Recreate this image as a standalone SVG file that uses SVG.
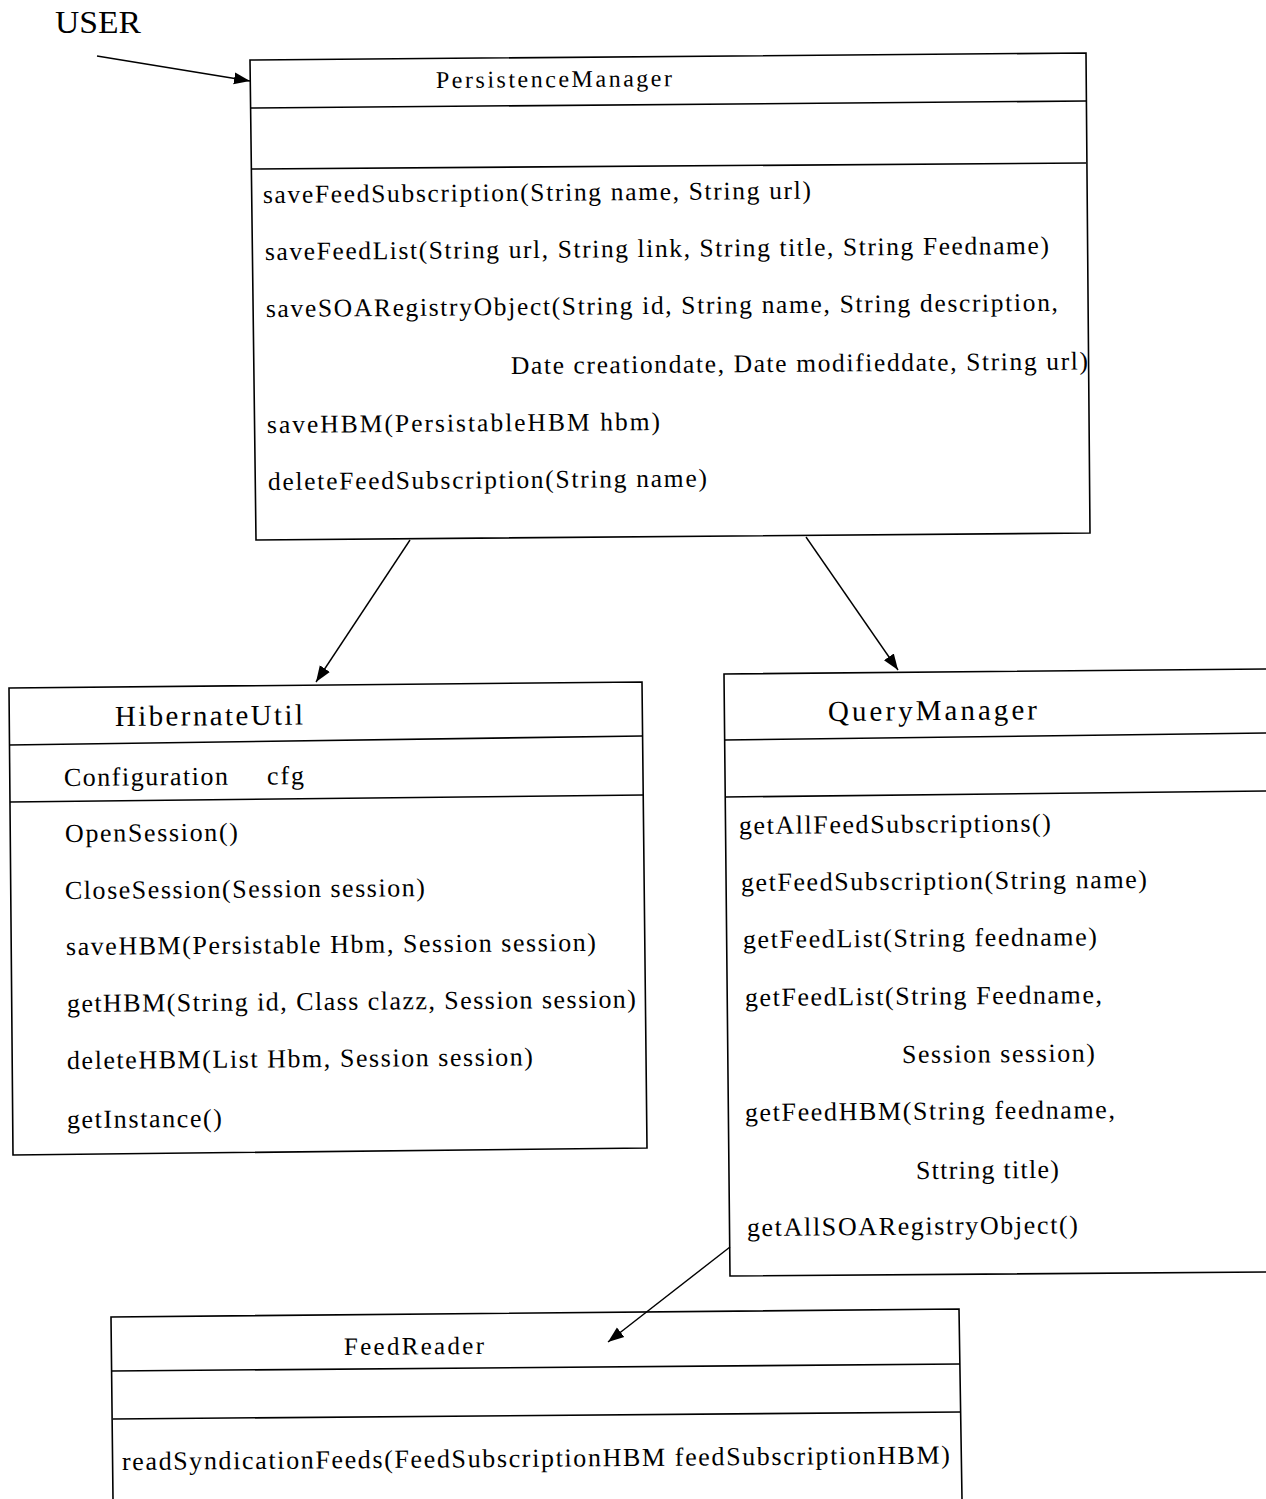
<svg xmlns="http://www.w3.org/2000/svg" width="1266" height="1499" viewBox="0 0 1266 1499">
  <style>
    .box { fill: none; stroke: #000; stroke-width: 1.6; stroke-linejoin: miter; }
    .sep { stroke: #000; stroke-width: 1.6; }
    .edge { stroke: #000; stroke-width: 1.4; fill: none; }
    text { font-family: "Liberation Serif", "Times New Roman", serif; fill: #000; }
    .title { font-size: 29px; }
    .ptitle { font-size: 24px; }
    .ftitle { font-size: 25px; }
    .m { font-size: 25.5px; }
    .m2 { font-size: 26px; }
    .actor { font-size: 31px; }
  </style>
  <defs>
    <marker id="arrow" markerUnits="userSpaceOnUse" markerWidth="18" markerHeight="14" refX="16" refY="7" orient="auto">
      <path d="M0,1 L16,7 L0,13 Z" fill="#000"/>
    </marker>
  </defs>

  <rect width="1266" height="1499" fill="#fff"/>

  <!-- actor -->
  <g id="user">
    <text class="actor" x="55" y="33" textLength="86" lengthAdjust="spacingAndGlyphs">USER</text>
  </g>

  <!-- PersistenceManager class -->
  <g id="persistence-manager">
    <path class="box" d="M250,60 L1086,53 L1090,533 L256,540 Z"/>
    <line class="sep" x1="250" y1="108" x2="1086" y2="101"/>
    <line class="sep" x1="251" y1="169" x2="1086" y2="163"/>
    <text class="ptitle" x="436" y="88" textLength="236" transform="rotate(-0.45 436 88)">PersistenceManager</text>
    <text class="m" x="263" y="203" textLength="548" transform="rotate(-0.45 263 203)">saveFeedSubscription(String name, String url)</text>
    <text class="m" x="265" y="260" textLength="784" transform="rotate(-0.45 265 260)">saveFeedList(String url, String link, String title, String Feedname)</text>
    <text class="m" x="266" y="317" textLength="792" transform="rotate(-0.45 266 317)">saveSOARegistryObject(String id, String name, String description,</text>
    <text class="m" x="511" y="374" textLength="577" transform="rotate(-0.45 511 374)">Date creationdate, Date modifieddate, String url)</text>
    <text class="m" x="267" y="433" textLength="393" transform="rotate(-0.45 267 433)">saveHBM(PersistableHBM hbm)</text>
    <text class="m" x="268" y="490" textLength="439" transform="rotate(-0.45 268 490)">deleteFeedSubscription(String name)</text>
  </g>

  <!-- HibernateUtil class -->
  <g id="hibernate-util">
    <path class="box" d="M9,688 L642,682 L647,1148 L13,1155 Z"/>
    <line class="sep" x1="9" y1="745" x2="642" y2="736"/>
    <line class="sep" x1="10" y1="802" x2="643" y2="795"/>
    <text class="title" x="115" y="726" textLength="188" transform="rotate(-0.45 115 726)">HibernateUtil</text>
    <text class="m2" x="64" y="786" transform="rotate(-0.45 64 786)"><tspan textLength="164">Configuration</tspan><tspan x="267" textLength="37">cfg</tspan></text>
    <text class="m2" x="65" y="842" textLength="173" transform="rotate(-0.45 65 842)">OpenSession()</text>
    <text class="m2" x="65" y="899" textLength="360" transform="rotate(-0.45 65 899)">CloseSession(Session session)</text>
    <text class="m2" x="66" y="955" textLength="530" transform="rotate(-0.45 66 955)">saveHBM(Persistable Hbm, Session session)</text>
    <text class="m2" x="67" y="1012" textLength="569" transform="rotate(-0.45 67 1012)">getHBM(String id, Class clazz, Session session)</text>
    <text class="m2" x="67" y="1069" textLength="466" transform="rotate(-0.45 67 1069)">deleteHBM(List Hbm, Session session)</text>
    <text class="m2" x="67" y="1128" textLength="155" transform="rotate(-0.45 67 1128)">getInstance()</text>
  </g>

  <!-- QueryManager class (runs off the right edge) -->
  <g id="query-manager">
    <path class="box" d="M1266,669 L724,674 L730,1276 L1266,1272"/>
    <line class="sep" x1="724" y1="740" x2="1266" y2="733"/>
    <line class="sep" x1="725" y1="797" x2="1266" y2="791"/>
    <text class="title" x="828" y="721" textLength="209" transform="rotate(-0.45 828 721)">QueryManager</text>
    <text class="m2" x="739" y="834" textLength="312" transform="rotate(-0.45 739 834)">getAllFeedSubscriptions()</text>
    <text class="m2" x="741" y="891" textLength="406" transform="rotate(-0.45 741 891)">getFeedSubscription(String name)</text>
    <text class="m2" x="743" y="948" textLength="354" transform="rotate(-0.45 743 948)">getFeedList(String feedname)</text>
    <text class="m2" x="745" y="1006" textLength="357" transform="rotate(-0.45 745 1006)">getFeedList(String Feedname,</text>
    <text class="m2" x="902" y="1063" textLength="193" transform="rotate(-0.45 902 1063)">Session session)</text>
    <text class="m2" x="745" y="1121" textLength="370" transform="rotate(-0.45 745 1121)">getFeedHBM(String feedname,</text>
    <text class="m2" x="916" y="1179" textLength="143" transform="rotate(-0.45 916 1179)">Sttring title)</text>
    <text class="m2" x="747" y="1236" textLength="331" transform="rotate(-0.45 747 1236)">getAllSOARegistryObject()</text>
  </g>

  <!-- FeedReader class (runs off the bottom edge) -->
  <g id="feed-reader">
    <path class="box" d="M113,1499 L111,1317 L959,1309 L962,1499"/>
    <line class="sep" x1="112" y1="1371" x2="960" y2="1364"/>
    <line class="sep" x1="113" y1="1419" x2="961" y2="1412"/>
    <text class="ftitle" x="344" y="1355" textLength="140" transform="rotate(-0.45 344 1355)">FeedReader</text>
    <text class="m2" x="122" y="1470" textLength="828" transform="rotate(-0.45 122 1470)">readSyndicationFeeds(FeedSubscriptionHBM feedSubscriptionHBM)</text>
  </g>

  <!-- associations -->
  <g id="connectors">
    <line class="edge" x1="97" y1="56" x2="250" y2="81" marker-end="url(#arrow)"/>
    <line class="edge" x1="410" y1="540" x2="316" y2="682" marker-end="url(#arrow)"/>
    <line class="edge" x1="806" y1="537" x2="898" y2="670" marker-end="url(#arrow)"/>
    <line class="edge" x1="730" y1="1247" x2="608" y2="1342" marker-end="url(#arrow)"/>
  </g>
</svg>
